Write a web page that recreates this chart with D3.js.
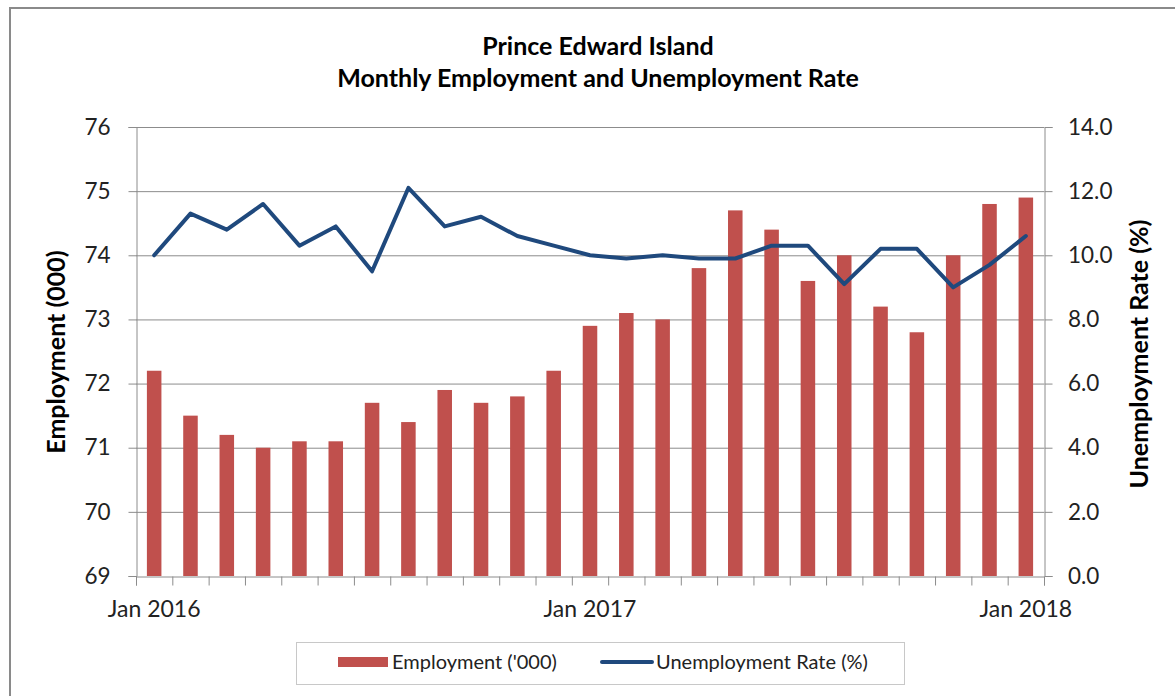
<!DOCTYPE html>
<html><head><meta charset="utf-8">
<script src="https://cdn.jsdelivr.net/npm/d3@7"></script>
<style>
body{margin:0;background:#fff;}
svg{display:block;font-family:Lato, "Open Sans", sans-serif;}
</style></head>
<body>
<svg id="c" width="1175" height="696"></svg>
<script>
const months = ["2016-01","2016-02","2016-03","2016-04","2016-05","2016-06","2016-07","2016-08","2016-09","2016-10","2016-11","2016-12",
"2017-01","2017-02","2017-03","2017-04","2017-05","2017-06","2017-07","2017-08","2017-09","2017-10","2017-11","2017-12","2018-01"];
const employment = [72.2,71.5,71.2,71.0,71.1,71.1,71.7,71.4,71.9,71.7,71.8,72.2,72.9,73.1,73.0,73.8,74.7,74.4,73.6,74.0,73.2,72.8,74.0,74.8,74.9];
const unemploymentRate = [10.0,11.3,10.8,11.6,10.3,10.9,9.5,12.1,10.9,11.2,10.6,10.3,10.0,9.9,10.0,9.9,9.9,10.3,10.3,9.1,10.2,10.2,9.0,9.7,10.6];
const xTickMonths = ["2016-01","2017-01","2018-01"];
const xTickLabels = ["Jan 2016","Jan 2017","Jan 2018"];
const leftTicks = [69,70,71,72,73,74,75,76];
const rightTicks = [0,2,4,6,8,10,12,14];

const svg = d3.select("#c");
const L=136, R=1044, T=127, B=576;
const barColor="#C0504D", lineColor="#1F497D", gridColor="#8c8c8c";
const FONT="Lato, 'Open Sans', sans-serif";

// frame
svg.append("rect").attr("x",10).attr("y",8).attr("width",1200).attr("height",720)
  .attr("fill","none").attr("stroke","#8a8a8a").attr("stroke-width",2);

const x = d3.scaleBand().domain(months).range([L,R]).paddingInner(0.6).paddingOuter(0.3);
const xb = d3.scaleLinear().domain([0,months.length]).range([L,R]);
const yL = d3.scaleLinear().domain([69,76]).range([B,T]);
const yR = d3.scaleLinear().domain([0,14]).range([B,T]);

// gridlines
svg.append("g").selectAll("line").data(leftTicks.slice(1)).join("line")
  .attr("x1",L).attr("x2",R).attr("y1",d=>yL(d)+0.5).attr("y2",d=>yL(d)+0.5)
  .attr("stroke",gridColor).attr("stroke-width",1);

// bars
svg.append("g").selectAll("rect").data(employment).join("rect")
  .attr("x",(d,i)=>x(months[i])).attr("width",x.bandwidth())
  .attr("y",d=>yL(d)).attr("height",d=>B-yL(d)).attr("fill",barColor);

// line
const line = d3.line().x((d,i)=>x(months[i])+x.bandwidth()/2).y(d=>yR(d));
svg.append("path").datum(unemploymentRate).attr("d",line)
  .attr("fill","none").attr("stroke",lineColor).attr("stroke-width",4)
  .attr("stroke-linejoin","round").attr("stroke-linecap","round");

// axes
const axStyle = g=>{g.selectAll(".domain,.tick line").attr("stroke",gridColor);
  g.selectAll("text").attr("fill","#222").style("font-size","22.5px").style("font-family",FONT);};
svg.append("g").attr("transform",`translate(${L+0.5},0)`)
  .call(d3.axisLeft(yL).tickValues(leftTicks).tickFormat(d3.format("d")).tickSizeOuter(0).tickSize(8).tickPadding(18))
  .call(axStyle);
svg.append("g").attr("transform",`translate(${R+0.5},0)`)
  .call(d3.axisRight(yR).tickValues(rightTicks).tickFormat(d3.format(".1f")).tickSizeOuter(0).tickSize(8).tickPadding(15.5))
  .call(axStyle);
svg.append("g").attr("transform",`translate(0,${B+0.5})`)
  .call(d3.axisBottom(xb).tickValues(d3.range(months.length+1)).tickFormat("").tickSizeOuter(0).tickSize(9))
  .call(axStyle);
svg.append("g").selectAll("text").data(xTickMonths).join("text")
  .attr("x",d=>x(d)+x.bandwidth()/2).attr("y",617).attr("text-anchor","middle")
  .attr("fill","#222").style("font-size","23px").text((d,i)=>xTickLabels[i]);

// titles
svg.append("text").attr("x",598).attr("y",55).attr("text-anchor","middle")
  .style("font-size","25px").style("font-weight","bold").attr("fill","#000").text("Prince Edward Island");
svg.append("text").attr("x",598).attr("y",87).attr("text-anchor","middle")
  .style("font-size","25px").style("font-weight","bold").attr("fill","#000").text("Monthly Employment and Unemployment Rate");
svg.append("text").attr("transform","translate(65,352) rotate(-90)").attr("text-anchor","middle")
  .style("font-size","25px").style("font-weight","bold").attr("fill","#000").text("Employment (000)");
svg.append("text").attr("transform","translate(1148,354) rotate(-90)").attr("text-anchor","middle")
  .style("font-size","25px").style("font-weight","bold").attr("fill","#000").text("Unemployment Rate (%)");

// legend
const lg = svg.append("g");
lg.append("rect").attr("x",296.5).attr("y",642.5).attr("width",608).attr("height",42)
  .attr("fill","#fff").attr("stroke","#c8c8c8");
lg.append("rect").attr("x",338).attr("y",657).attr("width",50).attr("height",10).attr("fill",barColor);
lg.append("text").attr("x",392).attr("y",669).style("font-size","20px").attr("fill","#222").text("Employment ('000)");
lg.append("line").attr("x1",602).attr("x2",652).attr("y1",662).attr("y2",662)
  .attr("stroke",lineColor).attr("stroke-width",4).attr("stroke-linecap","round");
lg.append("text").attr("x",656).attr("y",669).style("font-size","20px").attr("fill","#222").text("Unemployment Rate (%)");
</script>
</body></html>
